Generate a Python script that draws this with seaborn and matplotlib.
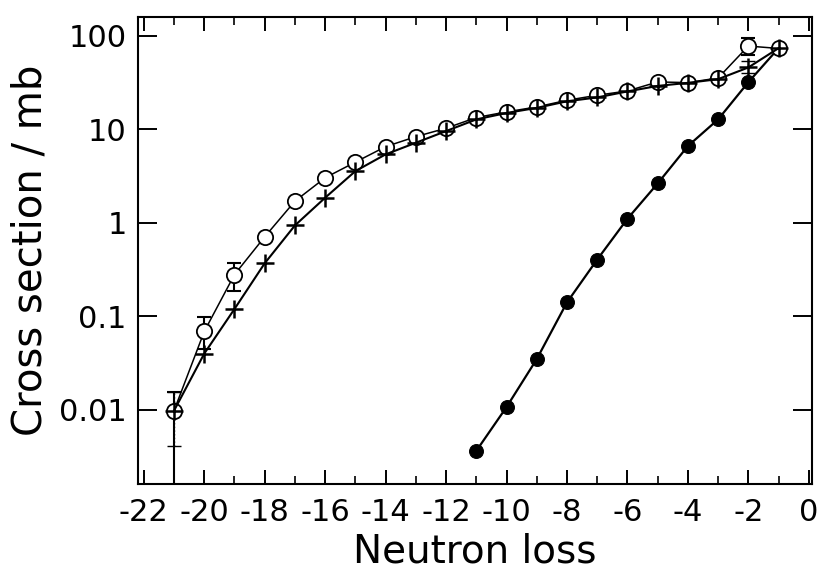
import numpy as np
import pandas as pd
import matplotlib
matplotlib.use("Agg")
import matplotlib.pyplot as plt
import seaborn as sns
from matplotlib.ticker import FixedLocator, NullLocator, FixedFormatter

# valores
neutron_loss = list(range(-21, 0))
open_sigma = [0.0098, 0.069, 0.28, 0.71, 1.71, 3.04, 4.47, 6.54, 8.37, 10.3, 13.4,
              15.4, 17.4, 20.5, 23.2, 25.8, 32.2, 31.7, 35.5, 78.0, 73.5]
plus_sigma = [0.0098, 0.040, 0.12, 0.37, 0.94, 1.86, 3.58, 5.41, 7.2, 9.6, 12.8,
              15.0, 17.0, 20.0, 22.0, 25.5, 29.2, 31.5, 34.5, 46.0, 74.0]
filled_loss = list(range(-11, 0))
filled_sigma = [0.00364, 0.0107, 0.0349, 0.141, 0.405, 1.107, 2.64, 6.64, 12.8, 32.0, 74.0]

# barras de erro visiveis (limites inferior / superior)
open_err_x = [-21, -20, -19, -2]
open_err_lo = [0.0001, 0.045, 0.185, 62.0]
open_err_hi = [0.0155, 0.098, 0.37, 96.0]
plus_err_x = [-21, -2]
plus_err_lo = [0.0041, 40.0]
plus_err_hi = [0.0155, 54.0]

y_ticks = [0.01, 0.1, 1, 10, 100]
y_ticklabels = ['0.01', '0.1', '1', '10', '100']
x_ticks = list(range(-22, 1, 2))

sns.set_style('ticks')
plt.rcParams['font.family'] = ['DejaVu Sans']
plt.rcParams['text.color'] = 'black'
plt.rcParams['axes.labelcolor'] = 'black'
plt.rcParams['xtick.color'] = 'black'
plt.rcParams['ytick.color'] = 'black'

fig = plt.figure(figsize=(8.25, 5.82), dpi=100)
ax = fig.add_axes([0.167, 0.168, 0.817, 0.803])

sns.lineplot(x=filled_loss, y=filled_sigma, ax=ax, color='black', lw=1.6,
             marker='o', markersize=10, markerfacecolor='black',
             markeredgecolor='black', zorder=3)
sns.lineplot(x=neutron_loss, y=open_sigma, ax=ax, color='black', lw=1.1,
             marker='o', markersize=11, markerfacecolor='white',
             markeredgecolor='black', markeredgewidth=1.3, zorder=4)
sns.lineplot(x=neutron_loss, y=plus_sigma, ax=ax, color='black', lw=1.5,
             marker='+', markersize=13, markeredgewidth=1.8,
             markeredgecolor='black', zorder=5)

oy = [open_sigma[neutron_loss.index(v)] for v in open_err_x]
ax.errorbar(open_err_x, oy,
            yerr=[np.array(oy) - np.array(open_err_lo), np.array(open_err_hi) - np.array(oy)],
            fmt='none', ecolor='black', elinewidth=1.5, capsize=5, capthick=1.5, zorder=3)
py = [plus_sigma[neutron_loss.index(v)] for v in plus_err_x]
eb = ax.errorbar(plus_err_x, py,
                 yerr=[np.array(py) - np.array(plus_err_lo), np.array(plus_err_hi) - np.array(py)],
                 fmt='none', ecolor='black', elinewidth=1.0, capsize=5, capthick=1.0, zorder=3)
for col in eb[2]:
    col.set_linestyle(':')

ax.set_yscale('log')
ax.set_xlim(-22.2, 0.1)
ax.set_ylim(0.0016, 160)
ax.yaxis.set_major_locator(FixedLocator(y_ticks))
ax.yaxis.set_major_formatter(FixedFormatter(y_ticklabels))
ax.yaxis.set_minor_locator(NullLocator())
ax.xaxis.set_major_locator(FixedLocator(x_ticks))
ax.xaxis.set_minor_locator(FixedLocator(list(range(-21, 0, 2))))
ax.set_xticklabels([str(t) for t in x_ticks])

ax.tick_params(axis='x', which='major', direction='in', length=10, width=1.4,
               top=True, labelsize=22, pad=10)
ax.tick_params(axis='x', which='minor', direction='in', length=6, width=1.2, top=True)
ax.tick_params(axis='y', which='major', direction='in', length=14, width=1.4,
               right=True, labelsize=22, pad=8)
for s in ax.spines.values():
    s.set_linewidth(1.5)
    s.set_color('black')

ax.set_xlabel('Neutron loss', fontsize=28, labelpad=4)
ax.set_ylabel('Cross section / mb', fontsize=29, labelpad=6)

fig.savefig('out.png', dpi=100)
